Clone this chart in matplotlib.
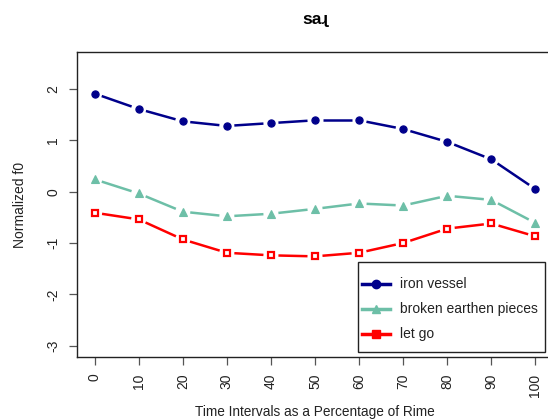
import numpy as np
import matplotlib
matplotlib.use("Agg")
import matplotlib.pyplot as plt
from matplotlib.lines import Line2D
from matplotlib.patches import Rectangle

plt.rcParams['font.family'] = ['Liberation Sans', 'DejaVu Sans']

# Data
time_pct = [0, 10, 20, 30, 40, 50, 60, 70, 80, 90, 100]
iron_vessel = [1.91, 1.61, 1.37, 1.28, 1.335, 1.39, 1.39, 1.22, 0.97, 0.63, 0.05]
broken_pieces = [0.24, -0.035, -0.39, -0.48, -0.43, -0.335, -0.23, -0.27, -0.08, -0.16, -0.61]
let_go = [-0.41, -0.54, -0.93, -1.19, -1.24, -1.26, -1.19, -1.0, -0.72, -0.62, -0.87]
series_names = ["iron vessel", "broken earthen pieces", "let go"]
y_ticks = [-3, -2, -1, 0, 1, 2]

W, H = 548, 420
fig = plt.figure(figsize=(W / 100, H / 100), dpi=100)
ax = fig.add_axes([77 / W, 1 - 357 / H, (553 - 77) / W, (357 - 52) / H])
ax.set_xlim(-4, 104)
ax.set_ylim(-3.22, 2.72)

styles = [
    dict(color="#00008B", marker="o", ms=5.2, mfc="#00008B", mec="#00008B", mew=0.8),
    dict(color="#6DBFA7", marker="^", ms=5.4, mfc="#6DBFA7", mec="#6DBFA7", mew=0.8),
    dict(color="#FF0000", marker="s", ms=4.6, mfc="white", mec="#FF0000", mew=1.6),
]

fig.canvas.draw()


def gapped_segments(x, y, gap_px=7.5):
    """Line segments between points, trimmed near each point (R type='b')."""
    pts = ax.transData.transform(np.column_stack([x, y]))
    inv = ax.transData.inverted()
    segs = []
    for p0, p1 in zip(pts[:-1], pts[1:]):
        d = p1 - p0
        L = np.hypot(*d)
        if L <= 2 * gap_px:
            continue
        u = d / L
        a = inv.transform(p0 + u * gap_px)
        b = inv.transform(p1 - u * gap_px)
        segs.append((a, b))
    return segs


for yv, st in zip([iron_vessel, broken_pieces, let_go], styles):
    for a, b in gapped_segments(time_pct, yv):
        ax.plot([a[0], b[0]], [a[1], b[1]], color=st["color"], lw=1.8,
                solid_capstyle="butt", zorder=2)
    ax.plot(time_pct, yv, linestyle="none", marker=st["marker"], ms=st["ms"],
            mfc=st["mfc"], mec=st["mec"], mew=st["mew"], zorder=3)

ax.set_xticks(time_pct)
ax.set_xticklabels([str(t) for t in time_pct], rotation=90)
ax.set_yticks(y_ticks)
ax.set_yticklabels([str(t) for t in y_ticks], rotation=90, va="center")
ax.tick_params(axis="both", length=6, width=0.9, color="#555555",
               labelsize=10, labelcolor="#222222", pad=6)

for s in ax.spines.values():
    s.set_linewidth(1.0)
    s.set_color("#222222")
ax.spines["right"].set_visible(False)

ax.set_title("saɻ", fontsize=12.5, fontweight="bold", pad=20)
ax.set_ylabel("Normalized f0", fontsize=10, color="#222222", labelpad=14)
ax.set_xlabel("Time Intervals as a Percentage of Rime", fontsize=9.8,
              color="#222222")
ax.xaxis.set_label_coords((315 - 77) / (553 - 77), -(405 - 357) / (357 - 52))


def to_fig(x, y):
    return x / W, 1 - y / H


box_l, box_t, box_r, box_b = 358, 262, 545, 352
fig.add_artist(Rectangle(to_fig(box_l, box_b), (box_r - box_l) / W,
                         (box_b - box_t) / H, transform=fig.transFigure,
                         facecolor="white", edgecolor="#222222", lw=1.0,
                         zorder=5))
row_y = [284, 309, 334]
for name, st, yy in zip(series_names, styles, row_y):
    x0, y0 = to_fig(362, yy)
    x1, _ = to_fig(390, yy)
    xm, _ = to_fig(376, yy)
    fig.add_artist(Line2D([x0, x1], [y0, y0], transform=fig.transFigure,
                          color=st["color"], lw=2.5, zorder=6))
    fig.add_artist(Line2D([xm], [y0], transform=fig.transFigure,
                          linestyle="none", marker=st["marker"],
                          ms=st["ms"] + 0.8, mfc=st["mec"], mec=st["mec"],
                          zorder=7))
    tx, ty = to_fig(400, yy)
    fig.text(tx, ty, name, fontsize=10, color="#222222", va="center",
             ha="left", zorder=7)

fig.savefig("out.png", dpi=100)
